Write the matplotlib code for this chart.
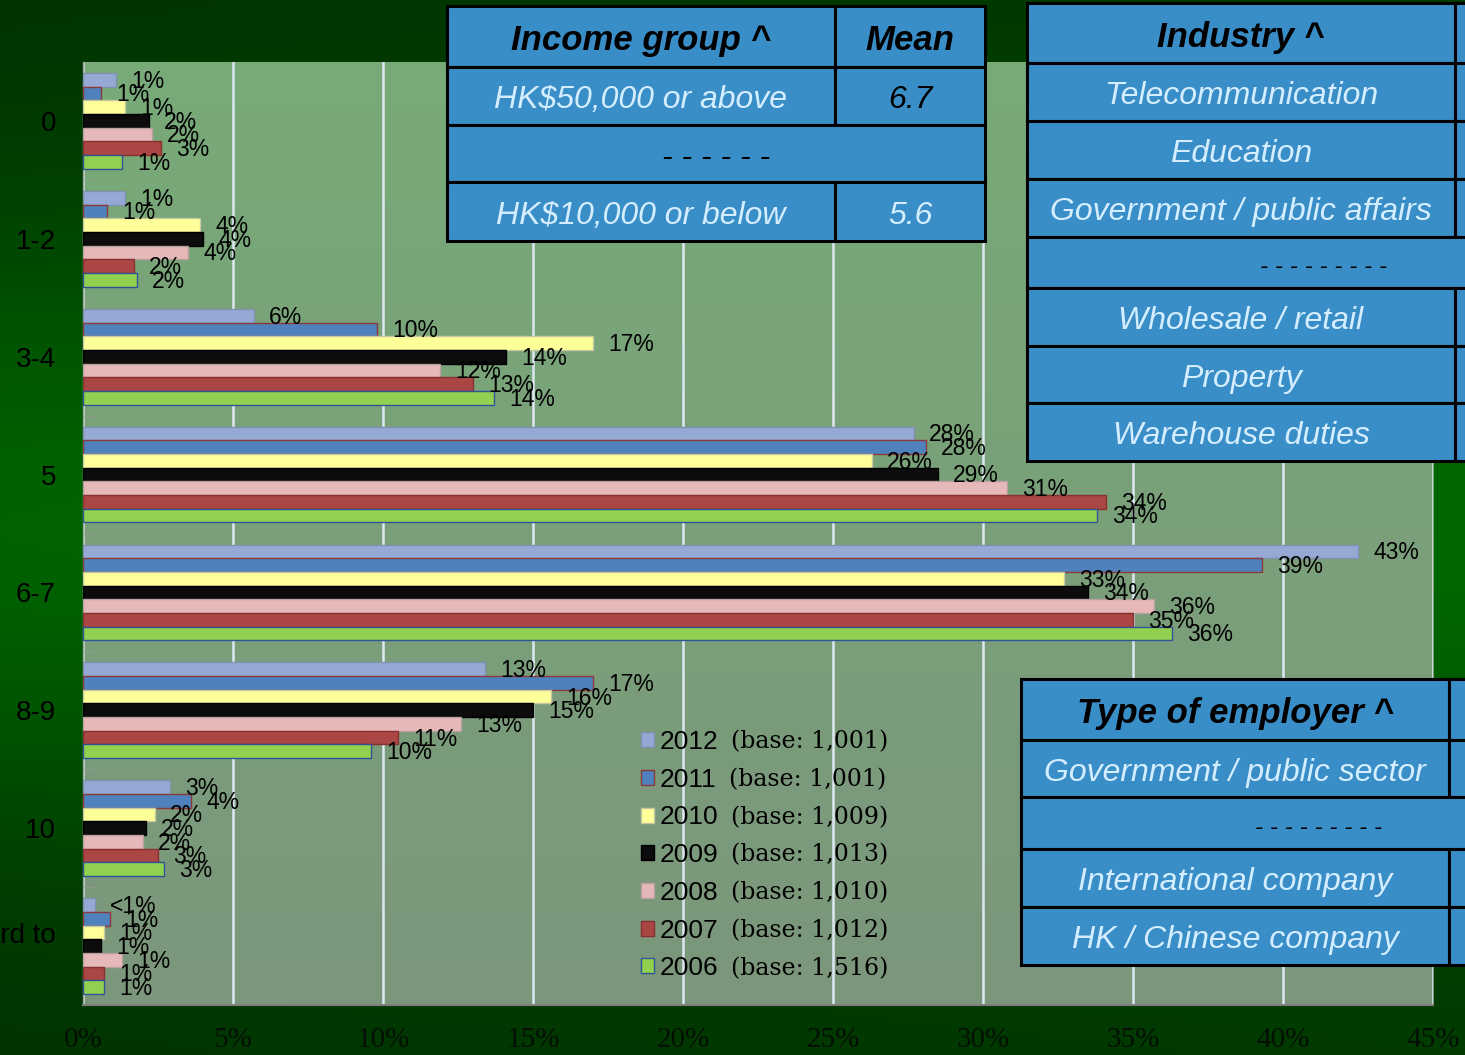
import matplotlib
matplotlib.use('Agg')
import matplotlib.pyplot as plt
import numpy as np
from matplotlib.patches import Patch, Rectangle

# 数据
categories = ['0', '1-2', '3-4', '5', '6-7', '8-9', '10', 'Hard to\n']
years = ['2012', '2011', '2010', '2009', '2008', '2007', '2006']
bases = ['(base: 1,001)', '(base: 1,001)', '(base: 1,009)', '(base: 1,013)',
         '(base: 1,010)', '(base: 1,012)', '(base: 1,516)']
v2012 = [1.1, 1.4, 5.7, 27.7, 42.5, 13.4, 2.9, 0.4]
v2011 = [0.6, 0.8, 9.8, 28.1, 39.3, 17.0, 3.6, 0.9]
v2010 = [1.4, 3.9, 17.0, 26.3, 32.7, 15.6, 2.4, 0.7]
v2009 = [2.2, 4.0, 14.1, 28.5, 33.5, 15.0, 2.1, 0.6]
v2008 = [2.3, 3.5, 11.9, 30.8, 35.7, 12.6, 2.0, 1.3]
v2007 = [2.6, 1.7, 13.0, 34.1, 35.0, 10.5, 2.5, 0.7]
v2006 = [1.3, 1.8, 13.7, 33.8, 36.3, 9.6, 2.7, 0.7]
t2012 = ['1%', '1%', '6%', '28%', '43%', '13%', '3%', '<1%']
t2011 = ['1%', '1%', '10%', '28%', '39%', '17%', '4%', '1%']
t2010 = ['1%', '4%', '17%', '26%', '33%', '16%', '2%', '1%']
t2009 = ['2%', '4%', '14%', '29%', '34%', '15%', '2%', '1%']
t2008 = ['2%', '4%', '12%', '31%', '36%', '13%', '2%', '1%']
t2007 = ['3%', '2%', '13%', '34%', '35%', '11%', '3%', '1%']
t2006 = ['1%', '2%', '14%', '34%', '36%', '10%', '3%', '1%']
values = [v2012, v2011, v2010, v2009, v2008, v2007, v2006]
texts = [t2012, t2011, t2010, t2009, t2008, t2007, t2006]

# 表格文字
income_rows = [('Income group ^', 'Mean'), ('HK$50,000 or above', '6.7'), None,
               ('HK$10,000 or below', '5.6')]
industry_rows = ['Industry ^', 'Telecommunication', 'Education', 'Government / public affairs',
                 None, 'Wholesale / retail', 'Property', 'Warehouse duties']
employer_rows = ['Type of employer ^', 'Government / public sector', None,
                 'International company', 'HK / Chinese company']

colors = ['#95a9d4', '#4f81bd', '#ffff99', '#0c0c0c', '#e6b9b8', '#aa4644', '#92d050']
edges = ['#8090b0', '#8b3a3a', '#c8c8a0', '#000000', '#b8a0a0', '#8b3030', '#2f5597']

W, H = 1465, 1055
fig = plt.figure(figsize=(W / 100, H / 100), dpi=100)

# 背景渐变
bg = fig.add_axes([0, 0, 1, 1], zorder=-2)
yy = np.linspace(0, 1, 200)[:, None]
xx = np.linspace(0, 1, 200)[None, :]
g = 50 + 48 * np.exp(-((yy - 0.5) / 0.3) ** 2) + 6 * xx
img = np.zeros((200, 200, 3))
img[..., 1] = g / 255
bg.imshow(img, aspect='auto', extent=(0, 1, 0, 1))
bg.axis('off')

ax = fig.add_axes([83 / W, 1 - 1005 / H, 1350 / W, 943 / H])
pg = np.linspace(0, 1, 100)[:, None]
plot_bg = np.ones((100, 2, 3))
plot_bg[..., 0] = (120 + 4 * pg) / 255
plot_bg[..., 1] = (170 - 20 * pg) / 255
plot_bg[..., 2] = (120 + 4 * pg) / 255
ax.imshow(plot_bg, aspect='auto', extent=(0, 1, 0, 1), transform=ax.transAxes, zorder=0)

y = np.arange(len(categories))
h = 0.116
for i in range(len(years)):
    pos = y + (i - 3) * h
    ax.barh(pos, values[i], height=h, color=colors[i], edgecolor=edges[i],
            linewidth=1, zorder=3, label=years[i])
    for j in range(len(categories)):
        ax.annotate(texts[i][j], xy=(values[i][j], pos[j]), xytext=(11, -1),
                    textcoords='offset points', ha='left', va='center',
                    fontsize=16.5, family='Liberation Sans', color='black', zorder=4)

ax.set_xlim(0, 45)
ax.set_ylim(len(categories) - 0.5, -0.5)
ax.set_xticks(np.arange(0, 46, 5))
ax.set_xticklabels([f'{t}%' for t in range(0, 46, 5)], family='Liberation Serif',
                   fontsize=21, color='#050f05')
ax.set_yticks(y)
ax.set_yticklabels(categories, family='Liberation Sans', fontsize=20, color='black')
ax.tick_params(axis='x', length=0, pad=16)
ax.tick_params(axis='y', length=0, pad=19.5)
ax.set_yticks(np.arange(-0.5, len(categories), 1), minor=True)
ax.tick_params(axis='y', which='minor', direction='in', length=7, color='#999999')
ax.grid(axis='x', color='#dde8f2', linewidth=1.8, zorder=1)
for s in ['top', 'right']:
    ax.spines[s].set_visible(False)
ax.spines['bottom'].set_color('#7f7f7f')
ax.spines['bottom'].set_linewidth(1.5)
ax.spines['left'].set_color('#9aa89a')
ax.spines['left'].set_linewidth(1)

handles = [Patch(facecolor=colors[i], edgecolor=edges[i], linewidth=1) for i in range(len(years))]
leg = ax.legend(handles, years, loc='upper left', bbox_to_anchor=(641 / W, 1 - 730 / H),
                bbox_transform=fig.transFigure, frameon=False, borderpad=0, borderaxespad=0,
                handlelength=0.5, handleheight=0.5, handletextpad=0.22, labelspacing=0.52,
                prop={'family': 'Liberation Sans', 'size': 19})
leg.set_zorder(5)
for t, b in zip(leg.get_texts(), bases):
    ax.annotate(b, xy=(1, 0.5), xycoords=t, xytext=(12, 0), textcoords='offset pixels',
                ha='left', va='center', family='DejaVu Serif', fontsize=17, zorder=6)

# 表格层
ov = fig.add_axes([0, 0, 1, 1], zorder=10)
ov.set_xlim(0, W)
ov.set_ylim(H, 0)
ov.axis('off')
fill = '#3a8ec8'
light = '#d4eeff'


def cell(x0, y0, x1, y1, txt=None, bold=False, color=light, size=23):
    ov.add_patch(Rectangle((x0, y0), x1 - x0, y1 - y0, facecolor=fill, edgecolor='black',
                           linewidth=2.2, clip_on=False))
    if txt is not None:
        ov.text((x0 + x1) / 2, (y0 + y1) / 2 + 4, txt, ha='center', va='center',
                family='Liberation Sans', style='italic', fontsize=25 if bold else size,
                weight='bold' if bold else 'normal', color='black' if bold else color)


# Income group
ys = [6, 67, 125, 182, 241]
for k, row in enumerate(income_rows):
    if row is None:
        cell(447, ys[k], 985, ys[k + 1], '- - - - - -', color='black')
    else:
        cell(447, ys[k], 835, ys[k + 1], row[0], bold=(k == 0))
        cell(835, ys[k], 985, ys[k + 1], row[1], bold=(k == 0),
             color='black' if k == 1 else light)

# Industry
ys = [3, 63, 121, 179, 237, 288, 346, 403, 461]
for k, row in enumerate(industry_rows):
    if row is None:
        cell(1027, ys[k], 1621, ys[k + 1], '- - - - - - - - -', color='black', size=17.5)
    else:
        cell(1027, ys[k], 1455, ys[k + 1], row, bold=(k == 0))
        cell(1455, ys[k], 1621, ys[k + 1])

# Type of employer
ys = [679, 740, 797, 849, 907, 965]
for k, row in enumerate(employer_rows):
    if row is None:
        cell(1021, ys[k], 1617, ys[k + 1], '- - - - - - - - -', color='black', size=17.5)
    else:
        cell(1021, ys[k], 1449, ys[k + 1], row, bold=(k == 0))
        cell(1449, ys[k], 1617, ys[k + 1])

fig.canvas.draw()
fig.savefig('out.png', dpi=100)
